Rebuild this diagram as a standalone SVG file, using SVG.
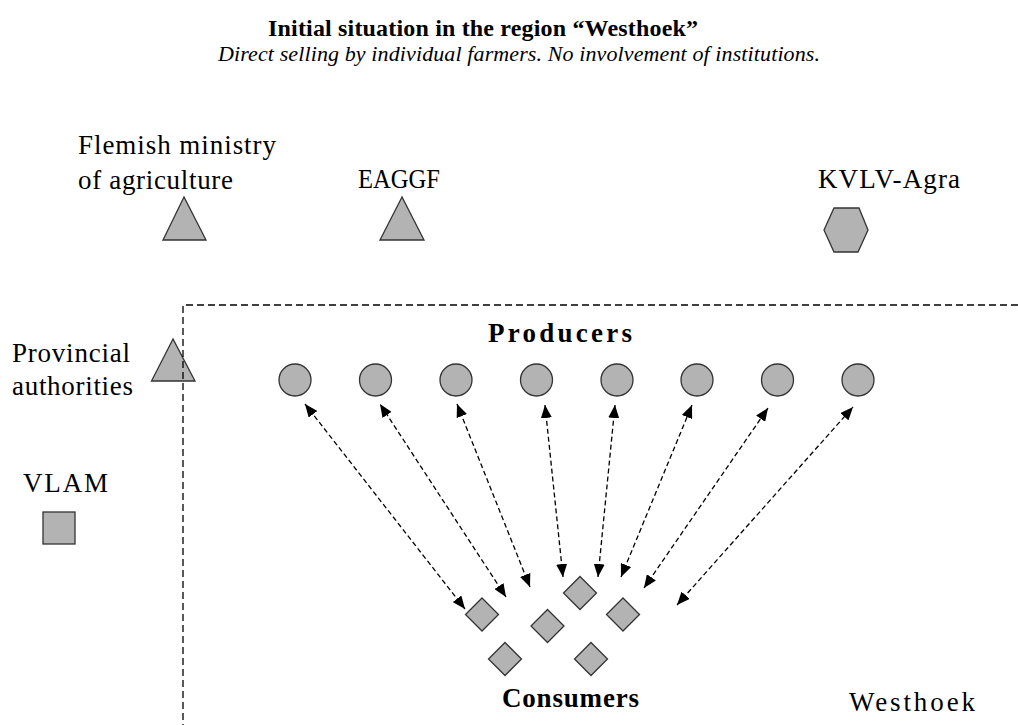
<svg xmlns="http://www.w3.org/2000/svg" width="1018" height="725" viewBox="0 0 1018 725">
  <style>
    text { font-family: "Liberation Serif", "Times New Roman", serif; fill: #000; }
    .title { font-size: 24px; font-weight: bold; }
    .sub { font-size: 22px; font-style: italic; }
    .lbl { font-size: 27px; }
    .grp { font-size: 27px; font-weight: bold; }
    .shape { fill: #b3b3b3; stroke: #333; stroke-width: 1.3; }
    .link { fill: none; stroke: #000; stroke-width: 1.3; stroke-dasharray: 5 3; marker-start: url(#ah); marker-end: url(#ah); }
    .region { fill: none; stroke: #000; stroke-width: 1.3; stroke-dasharray: 7 4; }
  </style>
  <defs>
    <marker id="ah" viewBox="0 0 13 11" refX="13" refY="5.5" markerWidth="13" markerHeight="11" markerUnits="userSpaceOnUse" orient="auto-start-reverse">
      <path d="M0,0 L13,5.5 L0,11 z" fill="#000"/>
    </marker>
  </defs>
  <rect width="1018" height="725" fill="#fff"/>

  <!-- heading -->
  <g id="heading">
    <text class="title" x="268" y="36" textLength="430" lengthAdjust="spacing">Initial situation in the region “Westhoek”</text>
    <text class="sub" x="218" y="61" textLength="602" lengthAdjust="spacing">Direct selling by individual farmers. No involvement of institutions.</text>
  </g>

  <!-- institutions outside the region -->
  <g id="flemish-ministry">
    <text class="lbl" x="78" y="154" textLength="198" lengthAdjust="spacing">Flemish ministry</text>
    <text class="lbl" x="78" y="189" textLength="155" lengthAdjust="spacing">of agriculture</text>
    <polygon class="shape" points="184,197 163,240 206,240"/>
  </g>
  <g id="eaggf">
    <text class="lbl" x="358" y="188" textLength="82" lengthAdjust="spacingAndGlyphs">EAGGF</text>
    <polygon class="shape" points="402,197 380,240 424,240"/>
  </g>
  <g id="kvlv-agra">
    <text class="lbl" x="818" y="188" textLength="142" lengthAdjust="spacing">KVLV-Agra</text>
    <polygon class="shape" points="834,208 859,208 868,230 858,252 834,252 824,230"/>
  </g>
  <g id="provincial-authorities">
    <text class="lbl" x="12" y="362" textLength="118" lengthAdjust="spacing">Provincial</text>
    <text class="lbl" x="12" y="395" textLength="121" lengthAdjust="spacing">authorities</text>
    <polygon class="shape" points="173,339 151.5,381 195,381"/>
  </g>
  <g id="vlam">
    <text class="lbl" x="23" y="492" textLength="85" lengthAdjust="spacing">VLAM</text>
    <rect class="shape" x="43" y="512" width="32" height="32"/>
  </g>

  <!-- Westhoek region boundary -->
  <g id="region-westhoek">
    <path class="region" d="M1018,305 H183 V725"/>
    <text class="lbl" x="849" y="711" textLength="126" lengthAdjust="spacing">Westhoek</text>
  </g>

  <!-- producers -->
  <g id="producers">
    <text class="grp" x="488" y="342" textLength="144" lengthAdjust="spacing">Producers</text>
    <circle id="producer-1" class="shape" cx="295" cy="380" r="16"/>
    <circle id="producer-2" class="shape" cx="375.5" cy="380" r="16"/>
    <circle id="producer-3" class="shape" cx="456" cy="380" r="16"/>
    <circle id="producer-4" class="shape" cx="536.5" cy="380" r="16"/>
    <circle id="producer-5" class="shape" cx="617" cy="380" r="16"/>
    <circle id="producer-6" class="shape" cx="697" cy="380" r="16"/>
    <circle id="producer-7" class="shape" cx="777.5" cy="380" r="16"/>
    <circle id="producer-8" class="shape" cx="858" cy="380" r="16"/>
  </g>

  <!-- consumers -->
  <g id="consumers">
    <polygon id="consumer-1" class="shape" points="482,598 498.5,614.5 482,631 465.5,614.5"/>
    <polygon id="consumer-2" class="shape" points="547.5,609.5 564,626 547.5,642.5 531,626"/>
    <polygon id="consumer-3" class="shape" points="580,576.5 596.5,593 580,609.5 563.5,593"/>
    <polygon id="consumer-4" class="shape" points="623,598 639.5,614.5 623,631 606.5,614.5"/>
    <polygon id="consumer-5" class="shape" points="505,642.5 521.5,659 505,675.5 488.5,659"/>
    <polygon id="consumer-6" class="shape" points="591,642.5 607.5,659 591,675.5 574.5,659"/>
    <text class="grp" x="502" y="707" textLength="137" lengthAdjust="spacing">Consumers</text>
  </g>

  <!-- direct selling links -->
  <g id="connectors">
    <line class="link" x1="465" y1="609" x2="305" y2="404"/>
    <line class="link" x1="506" y1="597" x2="380" y2="404"/>
    <line class="link" x1="530" y1="587" x2="457" y2="404"/>
    <line class="link" x1="563" y1="577" x2="545" y2="405"/>
    <line class="link" x1="598" y1="577" x2="615" y2="405"/>
    <line class="link" x1="621" y1="577" x2="692" y2="405"/>
    <line class="link" x1="644" y1="588" x2="768" y2="408"/>
    <line class="link" x1="677" y1="605" x2="853" y2="407"/>
  </g>
</svg>
